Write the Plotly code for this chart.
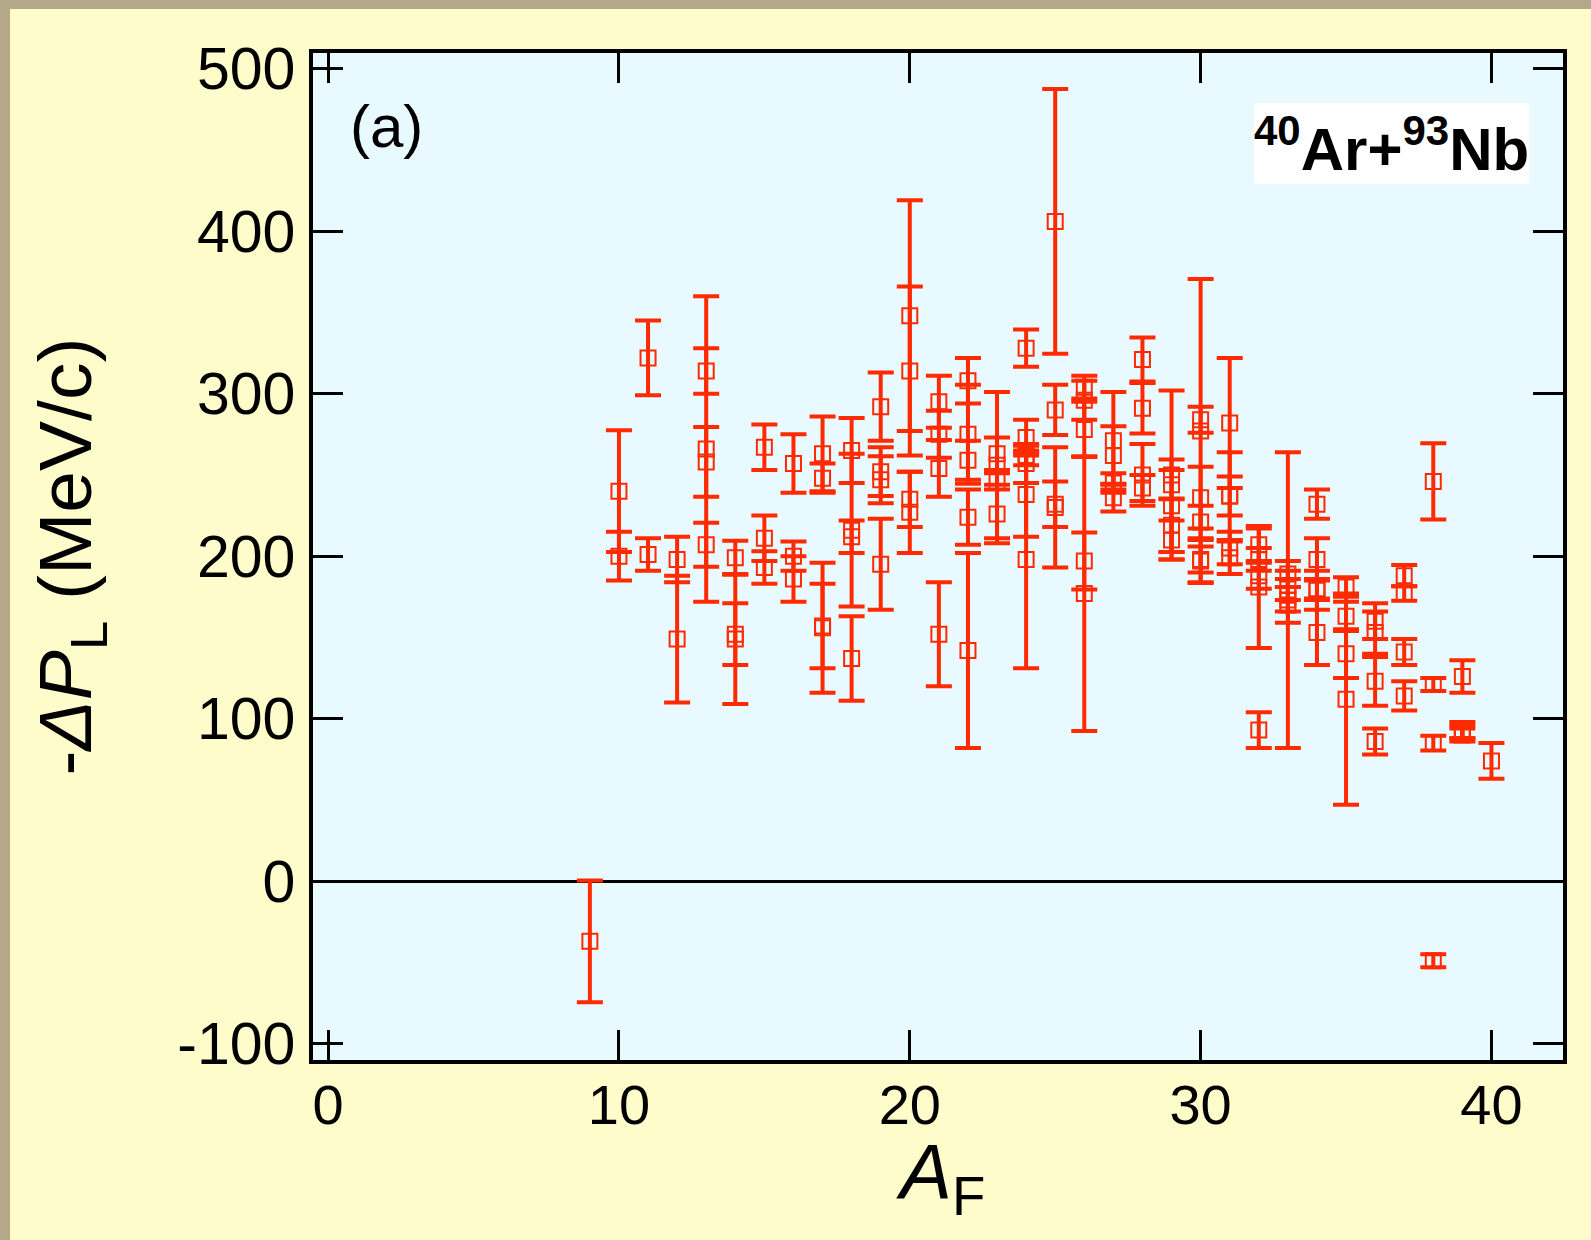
import plotly.graph_objects as go

# ---- data ----
A_F = [9,
       10, 10,
       11, 11,
       12, 12,
       13, 13, 13, 13,
       14, 14, 14,
       15, 15, 15,
       16, 16, 16,
       17, 17, 17, 17,
       18, 18, 18, 18,
       19, 19, 19, 19,
       20, 20, 20, 20,
       21, 21, 21, 21,
       22, 22, 22, 22, 22,
       23, 23, 23, 23,
       24, 24, 24, 24, 24, 24,
       25, 25, 25, 25,
       26, 26, 26, 26, 26,
       27, 27, 27, 27,
       28, 28, 28, 28,
       29, 29, 29, 29, 29,
       30, 30, 30, 30, 30, 30,
       31, 31, 31, 31, 31,
       32, 32, 32, 32, 32,
       33, 33, 33, 33, 33,
       34, 34, 34, 34, 34,
       35, 35, 35, 35,
       36, 36, 36, 36,
       37, 37, 37, 37,
       38, 38, 38, 38,
       39, 39, 39, 39,
       40]

dPL = [-37,
       240, 200,
       322, 201,
       198, 149,
       314, 266, 258, 207,
       199, 152, 149,
       267, 211, 193,
       257, 200, 186,
       263, 248, 156, 157,
       265, 216, 212, 137,
       292, 252, 247, 195,
       348, 314, 235, 227,
       295, 275, 254, 152,
       308, 275, 259, 224, 142,
       263, 256, 246, 226,
       328, 273, 262, 257, 238, 198,
       406, 290, 230, 232,
       304, 296, 278, 197, 177,
       271, 262, 245, 236,
       321, 291, 250, 242,
       250, 231, 244, 219, 210,
       284, 277, 236, 221, 198, 197,
       282, 237, 237, 205, 199,
       207, 198, 188, 181, 93,
       189, 182, 176, 173, 170,
       232, 198, 180, 179, 153,
       181, 163, 140, 112,
       160, 153, 123, 86,
       188, 177, 141, 114,
       246, 121, 85, -49,
       126, 93, 92, 90,
       74]

err = [37.5,
       37.5, 15,
       23, 10,
       14, 39,
       14, 94, 21.5, 13.5,
       10.5, 19, 40,
       14, 14, 10,
       18, 9, 14,
       23, 9, 40, 26,
       20, 47, 10, 26,
       21, 15, 14.5, 28,
       71, 52, 17, 25,
       16, 14.5, 17.5, 32,
       14, 30.5, 12, 17, 60,
       10, 45, 5, 18,
       11.5, 11, 6, 12, 26, 67,
       81.5, 15.5, 37, 14,
       7, 12, 17, 17.5, 84.5,
       30, 18, 6, 8.5,
       13.5, 15.5, 19, 8,
       52, 28.5, 9, 16.5, 12,
       8, 93.5, 19, 10, 8, 13,
       40, 27, 12, 10, 10,
       10, 7, 8, 37.5, 11,
       8, 9, 10, 91, 11,
       9, 13, 6, 12, 20,
       6, 9, 15, 65,
       11, 13, 15, 8,
       6.5, 4.5, 8, 9,
       23.5, 4, 4.5, 4,
       10, 5, 4, 4,
       11]

x_tickvals = [0, 10, 20, 30, 40]
x_ticktext = ["0", "10", "20", "30", "40"]
y_tickvals = [-100, 0, 100, 200, 300, 400, 500]
y_ticktext = ["-100", "0", "100", "200", "300", "400", "500"]

RED = "#ff2a00"
FONT = "Liberation Sans, Arial, Helvetica, sans-serif"

fig = go.Figure()
fig.add_trace(go.Scatter(
    x=A_F, y=dPL, mode="markers",
    marker=dict(symbol="square-open", size=15, color=RED,
                line=dict(width=2, color=RED)),
    error_y=dict(type="data", array=err, symmetric=True,
                 color=RED, thickness=4, width=13),
    showlegend=False,
))

W, H = 1591, 1240
L, R, T, B = 313, 28, 53, 180
pw, ph = W - L - R, H - T - B

def px2paper_x(px):
    return (px - L) / pw

def px2paper_y(py):
    return (H - B - py) / ph

axis_common = dict(
    showline=True, linecolor="black", linewidth=3.5, mirror="ticks",
    ticks="inside", ticklen=30, tickwidth=3, tickcolor="black",
    showgrid=False,
)

fig.update_layout(
    width=W, height=H,
    margin=dict(l=L, r=R, t=T, b=B, pad=0),
    paper_bgcolor="#fffccc",
    plot_bgcolor="#e8f9ff",
    font=dict(family=FONT, color="black"),
    xaxis=dict(
        range=[-0.52, 42.46], tickvals=x_tickvals, ticktext=x_ticktext,
        zeroline=False, ticklabelstandoff=-7,
        tickfont=dict(family=FONT, size=56, color="black"),
        **axis_common,
    ),
    yaxis=dict(
        range=[-110, 509.6], tickvals=y_tickvals, ticktext=y_ticktext,
        zeroline=True, zerolinecolor="black", zerolinewidth=3,
        ticklabelstandoff=2,
        tickfont=dict(family=FONT, size=59, color="black"),
        title=dict(text="-<i>ΔP</i><sub>L</sub> (MeV/c)",
                   font=dict(family=FONT, size=75), standoff=62),
        **axis_common,
    ),
    shapes=[
        # textured frame strips (left and top)
        dict(type="rect", xref="paper", yref="paper",
             x0=px2paper_x(0), x1=px2paper_x(10),
             y0=px2paper_y(H), y1=px2paper_y(0),
             fillcolor="#b5a888", line=dict(width=0), layer="below"),
        dict(type="rect", xref="paper", yref="paper",
             x0=px2paper_x(0), x1=px2paper_x(W),
             y0=px2paper_y(9), y1=px2paper_y(0),
             fillcolor="#b5a888", line=dict(width=0), layer="below"),
        # white box behind the reaction label
        dict(type="rect", xref="paper", yref="paper",
             x0=px2paper_x(1254), x1=px2paper_x(1529),
             y0=px2paper_y(184), y1=px2paper_y(103),
             fillcolor="white", line=dict(width=0), layer="below"),
    ],
    annotations=[
        # x-axis title
        dict(text="<i>A</i><sub>F</sub>", xref="paper", yref="paper",
             x=px2paper_x(940), y=px2paper_y(1126),
             xanchor="center", yanchor="top", showarrow=False,
             font=dict(family=FONT, size=78, color="black")),
        dict(text="(a)", xref="paper", yref="paper",
             x=px2paper_x(386), y=px2paper_y(127),
             xanchor="center", yanchor="middle", showarrow=False,
             font=dict(family=FONT, size=60, color="black")),
        dict(text="<b><sup>40</sup>Ar+<sup>93</sup>Nb</b>",
             xref="paper", yref="paper",
             x=px2paper_x(1391), y=px2paper_y(145),
             xanchor="center", yanchor="middle", showarrow=False,
             font=dict(family=FONT, size=60, color="black")),
    ],
)

fig.write_html("out.html")
